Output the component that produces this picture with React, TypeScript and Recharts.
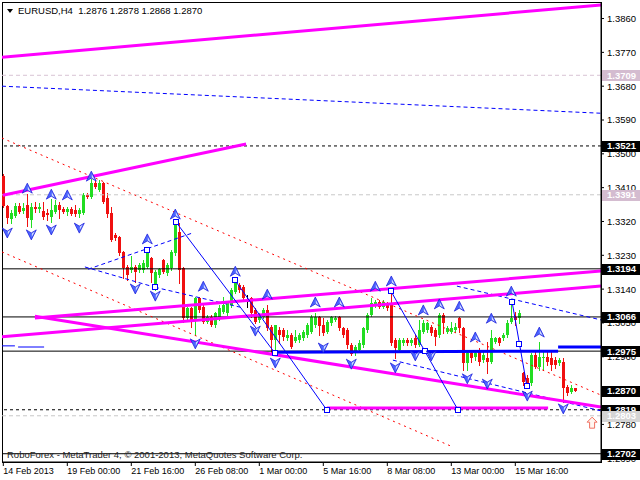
import {
  ComposedChart,
  Bar,
  Scatter,
  XAxis,
  YAxis,
  ReferenceLine,
  ReferenceArea,
} from 'recharts'

const FONT = "'Liberation Sans', Arial, sans-serif"
const GREEN = '#22dd22'
const RED = '#f01010'
const BLUE = '#0000ff'
const MAGENTA = '#ff00ff'

// H4 bars, index 0 = first visible bar
const timeTicks = [0, 16, 32, 48, 64, 80, 96, 112, 128]
const timeLabels = [
  '14 Feb 2013',
  '19 Feb 00:00',
  '21 Feb 16:00',
  '26 Feb 08:00',
  '1 Mar 00:00',
  '5 Mar 16:00',
  '8 Mar 08:00',
  '13 Mar 00:00',
  '15 Mar 16:00',
]

const priceTicks = [
  1.386, 1.377, 1.368, 1.359, 1.35, 1.341, 1.332, 1.323, 1.314, 1.305, 1.296, 1.287, 1.278, 1.269,
]

// open, high, low, close
const ohlc: [number, number, number, number][] = [
  [1.3441, 1.3447, 1.3358, 1.3361],
  [1.3361, 1.3364, 1.3316, 1.3329],
  [1.3326, 1.335, 1.3316, 1.3342],
  [1.3334, 1.3369, 1.3332, 1.3361],
  [1.3361, 1.3369, 1.3342, 1.3345],
  [1.3348, 1.3369, 1.3342, 1.3356],
  [1.3364, 1.3393, 1.3308, 1.3329],
  [1.3324, 1.3369, 1.3305, 1.3358],
  [1.3358, 1.3372, 1.3345, 1.3353],
  [1.3353, 1.3369, 1.3345, 1.3358],
  [1.3348, 1.3372, 1.3326, 1.3332],
  [1.3342, 1.3353, 1.3324, 1.3337],
  [1.3332, 1.338, 1.3318, 1.335],
  [1.3345, 1.3377, 1.3342, 1.3364],
  [1.3364, 1.3372, 1.3329, 1.335],
  [1.3353, 1.3358, 1.3342, 1.3345],
  [1.3345, 1.3358, 1.3337, 1.3353],
  [1.3353, 1.3358, 1.3337, 1.334],
  [1.335, 1.3364, 1.3334, 1.334],
  [1.334, 1.3356, 1.3332, 1.335],
  [1.3342, 1.3396, 1.334, 1.339],
  [1.339, 1.3396, 1.3382, 1.3385],
  [1.3385, 1.3433, 1.3382, 1.3422],
  [1.3422, 1.343, 1.3409, 1.3412],
  [1.3404, 1.343, 1.3401, 1.3422],
  [1.3422, 1.3425, 1.3369, 1.3372],
  [1.3382, 1.3396, 1.3332, 1.334],
  [1.3342, 1.3358, 1.3268, 1.3271],
  [1.3284, 1.3289, 1.3271, 1.3276],
  [1.3279, 1.3281, 1.3231, 1.3236],
  [1.3239, 1.3241, 1.317, 1.3196],
  [1.3199, 1.3204, 1.3164, 1.3177],
  [1.3191, 1.3228, 1.3185, 1.3199],
  [1.3199, 1.3204, 1.3159, 1.3185],
  [1.3191, 1.3209, 1.3185, 1.3204],
  [1.3191, 1.3217, 1.3185, 1.3209],
  [1.3199, 1.3249, 1.3196, 1.3247],
  [1.3223, 1.3225, 1.3159, 1.3183],
  [1.3151, 1.3191, 1.3137, 1.3185],
  [1.3177, 1.3196, 1.3172, 1.3193],
  [1.3217, 1.322, 1.3183, 1.3185],
  [1.3183, 1.3209, 1.3177, 1.3204],
  [1.3196, 1.3244, 1.3191, 1.3239],
  [1.3236, 1.3318, 1.3231, 1.3316],
  [1.3292, 1.3316, 1.3156, 1.3191],
  [1.3196, 1.3199, 1.3053, 1.3063],
  [1.3063, 1.3092, 1.3058, 1.309],
  [1.309, 1.3092, 1.3039, 1.3058],
  [1.3058, 1.3119, 1.3018, 1.3116],
  [1.3116, 1.3119, 1.3079, 1.3084],
  [1.3092, 1.3098, 1.305, 1.3053],
  [1.3053, 1.3071, 1.305, 1.3066],
  [1.3066, 1.3071, 1.3042, 1.3045],
  [1.3045, 1.3079, 1.3039, 1.3076],
  [1.3063, 1.3098, 1.3058, 1.309],
  [1.3079, 1.3119, 1.3076, 1.3098],
  [1.3076, 1.3106, 1.3071, 1.3103],
  [1.3098, 1.3143, 1.3092, 1.3137],
  [1.3132, 1.317, 1.313, 1.3156],
  [1.3151, 1.3156, 1.3132, 1.3137],
  [1.3145, 1.3151, 1.3111, 1.3116],
  [1.3109, 1.3124, 1.3092, 1.3109],
  [1.3116, 1.3119, 1.3066, 1.3076],
  [1.3084, 1.309, 1.305, 1.3053],
  [1.3058, 1.3076, 1.3053, 1.3071],
  [1.3066, 1.309, 1.3063, 1.3084],
  [1.3084, 1.3098, 1.3031, 1.3037],
  [1.3039, 1.3045, 1.2973, 1.3005],
  [1.3005, 1.3045, 1.297, 1.3045],
  [1.3031, 1.3039, 1.2997, 1.3018],
  [1.3031, 1.3037, 1.3005, 1.3013],
  [1.301, 1.3031, 1.3005, 1.3018],
  [1.3018, 1.3023, 1.2983, 1.2986],
  [1.3002, 1.3031, 1.2999, 1.3013],
  [1.3005, 1.3023, 1.2999, 1.3018],
  [1.301, 1.3031, 1.3005, 1.3026],
  [1.3018, 1.305, 1.3013, 1.3045],
  [1.3026, 1.3071, 1.3023, 1.3066],
  [1.3045, 1.3076, 1.3039, 1.3066],
  [1.3066, 1.3068, 1.3018, 1.3042],
  [1.3045, 1.3063, 1.3018, 1.3023],
  [1.3026, 1.3058, 1.3023, 1.3053],
  [1.305, 1.3068, 1.3045, 1.3066],
  [1.3058, 1.3068, 1.3055, 1.3063],
  [1.3066, 1.3068, 1.3031, 1.3037],
  [1.3037, 1.3039, 1.3013, 1.3018],
  [1.3031, 1.3037, 1.2983, 1.2991],
  [1.2991, 1.2997, 1.2965, 1.2967],
  [1.297, 1.2991, 1.2965, 1.2986],
  [1.2978, 1.3005, 1.2973, 1.2997],
  [1.2991, 1.3039, 1.2986, 1.3037],
  [1.3031, 1.3076, 1.3026, 1.3071],
  [1.3071, 1.3116, 1.3069, 1.3103],
  [1.3098, 1.3111, 1.3092, 1.3106],
  [1.3106, 1.3111, 1.309, 1.3092],
  [1.3092, 1.3111, 1.309, 1.3106],
  [1.3103, 1.3106, 1.3084, 1.309],
  [1.3103, 1.3137, 1.2991, 1.2997],
  [1.3005, 1.301, 1.2957, 1.2983],
  [1.2978, 1.301, 1.2973, 1.3005],
  [1.2997, 1.301, 1.2991, 1.3005],
  [1.3005, 1.301, 1.2991, 1.2997],
  [1.2997, 1.301, 1.2991, 1.3005],
  [1.301, 1.3018, 1.2986, 1.2991],
  [1.2991, 1.3058, 1.2989, 1.3031],
  [1.3026, 1.3058, 1.3023, 1.305],
  [1.3031, 1.3053, 1.3026, 1.305],
  [1.3039, 1.3045, 1.3018, 1.3023],
  [1.3031, 1.3037, 1.2991, 1.3013],
  [1.3018, 1.3076, 1.3013, 1.3071],
  [1.3071, 1.3076, 1.3023, 1.305],
  [1.3026, 1.3042, 1.3023, 1.3037],
  [1.3026, 1.3053, 1.3023, 1.3037],
  [1.3031, 1.305, 1.3026, 1.3039],
  [1.3063, 1.3066, 1.3026, 1.3037],
  [1.3037, 1.3039, 1.2925, 1.2943],
  [1.2943, 1.2978, 1.2925, 1.297],
  [1.297, 1.2973, 1.2946, 1.2957],
  [1.2959, 1.2973, 1.2951, 1.297],
  [1.2978, 1.2983, 1.2938, 1.2946],
  [1.2951, 1.2973, 1.2946, 1.2965],
  [1.2957, 1.2999, 1.2917, 1.2946],
  [1.2946, 1.3031, 1.2943, 1.301],
  [1.2999, 1.3013, 1.2997, 1.301],
  [1.301, 1.3013, 1.2991, 1.2997],
  [1.301, 1.3023, 1.3005, 1.3018],
  [1.3018, 1.3058, 1.3013, 1.305],
  [1.3053, 1.3106, 1.305, 1.3063],
  [1.3066, 1.3079, 1.3045, 1.3058],
  [1.3063, 1.3084, 1.305, 1.3076],
  [1.2917, 1.292, 1.2885, 1.2893],
  [1.2904, 1.2912, 1.288, 1.289],
  [1.289, 1.297, 1.2885, 1.2965],
  [1.2965, 1.2978, 1.293, 1.2933],
  [1.2933, 1.2999, 1.2925, 1.2959],
  [1.2957, 1.2973, 1.2925, 1.2959],
  [1.2959, 1.2973, 1.2938, 1.2946],
  [1.2957, 1.2973, 1.2925, 1.2938],
  [1.2951, 1.2959, 1.293, 1.2938],
  [1.2943, 1.2957, 1.2938, 1.2951],
  [1.2946, 1.2957, 1.284, 1.2878],
  [1.288, 1.2885, 1.2858, 1.2864],
  [1.2866, 1.2885, 1.2864, 1.2878],
  [1.2876, 1.2878, 1.2868, 1.287],
]

// fractal marks: [bar, price]
const fractalsUp: [number, number][] = [
  [6, 1.3406], [12, 1.339], [16, 1.3388], [22, 1.3438], [36, 1.3271], [43, 1.3337],
  [50, 1.3145], [58, 1.3185], [66, 1.3124], [78, 1.3103], [84, 1.3103], [93, 1.3145],
  [97, 1.3159], [105, 1.3082], [109, 1.3098], [114, 1.3092], [118, 1.301], [122, 1.306],
  [127, 1.3132], [134, 1.3023],
]
const fractalsDown: [number, number][] = [
  [1, 1.3292], [7, 1.3287], [12, 1.33], [19, 1.3305], [33, 1.3143], [38, 1.3124],
  [48, 1.2997], [63, 1.3031], [68, 1.2946], [80, 1.2986], [87, 1.2943], [98, 1.2933],
  [103, 1.2965], [107, 1.2965], [116, 1.2904], [121, 1.289], [131, 1.2858], [140, 1.2824],
]
const pivots: [number, number][] = [
  [35.9, 1.3244], [37.9, 1.3145], [43.2, 1.3318], [57.9, 1.3164], [67.9, 1.297],
  [80.9, 1.2818], [96.9, 1.3135], [105.4, 1.2975], [113.7, 1.2818], [127.2, 1.3106],
  [128.9, 1.2994], [130.9, 1.2882],
]
const buySignal: [number, number][] = [[147.2, 1.2786]]

type Seg = [[number, number], [number, number]]
const magentaLines: Seg[] = [
  [[-0.325, 1.3757], [149.425, 1.3896]],
  [[-0.1, 1.339], [60.7, 1.3526]],
  [[7.9, 1.3063], [149.425, 1.3188]],
  [[-0.325, 1.3013], [149.425, 1.3148]],
  [[7.9, 1.3068], [149.425, 1.2826]],
  [[80.9, 1.2824], [136.2, 1.2824]],
]
const blueThickLines: Seg[] = [
  [[67.4, 1.2972], [138.7, 1.2975]],
  [[138.7, 1.2986], [149.425, 1.2986]],
]
const blueThinLines: Seg[] = [
  [[43.2, 1.3318], [67.9, 1.297]],
  [[57.9, 1.3164], [80.9, 1.2818]],
  [[96.9, 1.3135], [113.7, 1.2818]],
  [[127.2, 1.3106], [130.9, 1.2882]],
  [[-0.325, 1.2989], [2.9, 1.2989]],
  [[3.7, 1.2986], [10.2, 1.2986]],
]
const blueDashLines: Seg[] = [
  [[-0.325, 1.368], [149.425, 1.3608]],
  [[21.2, 1.3193], [47.2, 1.3289]],
  [[20.4, 1.3199], [37.9, 1.3145]],
  [[37.9, 1.3145], [59.2, 1.3092]],
  [[113.4, 1.3148], [149.425, 1.3058]],
  [[97.4, 1.2951], [149.425, 1.2816]],
]
const redDashLines: Seg[] = [
  [[-0.325, 1.3542], [149.425, 1.2858]],
  [[-0.325, 1.3239], [112.4, 1.272]],
]

const solidLevels = [1.3194, 1.3066, 1.2975, 1.2702]
const dashedLevels = [1.3521, 1.2819]
const faintLevels = [1.3391, 1.2803]
const mauveLevels = [1.3709]

const blackTags = [1.3521, 1.3194, 1.3066, 1.2975, 1.287, 1.2819, 1.2702]
const mauveTags = [1.3709, 1.3391]
const grayTags = [1.2803]

const candles = ohlc.map(([o, h, l, c], i) => ({ i, o, h, l, c, range: [l, h] }))
const toPts = (arr: [number, number][]) => arr.map(([i, p]) => ({ i, p }))

const tagFill = new Map<number, string>([
  ...blackTags.map((p) => [p, '#000'] as [number, string]),
  ...mauveTags.map((p) => [p, '#d4bcd0'] as [number, string]),
  ...grayTags.map((p) => [p, '#d4d4d4'] as [number, string]),
])
// tags last so they are painted over the plain tick labels
const axisTicks = [...priceTicks.filter((t) => !tagFill.has(t)), ...tagFill.keys()]

function Candle(props: any) {
  const { x, y, width, height, payload } = props
  if (x == null || !payload) return null
  const { o, h, l, c } = payload
  const yTop = Math.min(y, y + height)
  const yBot = Math.max(y, y + height)
  const span = h - l || 1e-9
  const py = (v: number) => yTop + ((h - v) / span) * (yBot - yTop)
  const cx = Math.round(x + width / 2)
  const bTop = Math.round(py(Math.max(o, c)))
  const bBot = Math.round(py(Math.min(o, c)))
  const color = c > o ? GREEN : c < o ? RED : '#000'
  return (
    <g shapeRendering="crispEdges">
      <line x1={cx + 0.5} x2={cx + 0.5} y1={Math.round(yTop)} y2={Math.round(yBot) + 1} stroke={color} />
      <rect x={cx - 1} y={bTop} width={3} height={Math.max(1, bBot - bTop)} fill={color} />
    </g>
  )
}

function UpFractal({ cx, cy }: any) {
  if (cx == null) return null
  return (
    <g>
      <path d={`M${cx},${cy - 6} L${cx + 5},${cy + 4} L${cx},${cy + 1} L${cx - 5},${cy + 4} Z`} fill="#4a64ff" stroke="#1818d8" strokeWidth={0.7} />
      <path d={`M${cx + 0.5},${cy - 3} L${cx + 3.5},${cy + 2.5} L${cx + 0.5},${cy + 0.5} Z`} fill="#d4defc" />
    </g>
  )
}

function DownFractal({ cx, cy }: any) {
  if (cx == null) return null
  return (
    <g>
      <path d={`M${cx},${cy + 6} L${cx + 5},${cy - 4} L${cx},${cy - 1} L${cx - 5},${cy - 4} Z`} fill="#4a64ff" stroke="#1818d8" strokeWidth={0.7} />
      <path d={`M${cx + 0.5},${cy + 3} L${cx + 3.5},${cy - 2.5} L${cx + 0.5},${cy - 0.5} Z`} fill="#d4defc" />
    </g>
  )
}

function Pivot({ cx, cy }: any) {
  if (cx == null) return null
  return <rect x={Math.round(cx) - 2.5} y={Math.round(cy) - 2.5} width={5} height={5} fill="#fff" stroke={BLUE} />
}

function BuyArrow({ cx, cy }: any) {
  if (cx == null) return null
  return (
    <path
      d={`M${cx},${cy - 5} L${cx + 5},${cy} L${cx + 2.5},${cy} L${cx + 2.5},${cy + 6} L${cx - 2.5},${cy + 6} L${cx - 2.5},${cy} L${cx - 5},${cy} Z`}
      fill="#fff6f0"
      stroke="#f07060"
    />
  )
}

function PriceTick(props: any) {
  const { x, y, payload } = props
  const v = payload.value as number
  const bg = tagFill.get(v)
  if (bg) {
    return (
      <g>
        <rect x={x - 5} y={Math.round(y) - 5} width={38} height={11} fill={bg} />
        <text x={x} y={y} dy="0.36em" fill="#fff" fontSize={9.5} fontFamily={FONT} fontWeight="bold">
          {v.toFixed(4)}
        </text>
      </g>
    )
  }
  return (
    <text x={x} y={y} dy="0.36em" fill="#000" fontSize={9.5} fontFamily={FONT}>
      {v.toFixed(4)}
    </text>
  )
}

function TimeTick(props: any) {
  const { x, y, payload } = props
  const k = timeTicks.indexOf(payload.value)
  return (
    <text x={x} y={y} dy="0.71em" textAnchor="start" fontSize={9} fontFamily={FONT} fill="#000">
      {timeLabels[k]}
    </text>
  )
}

const segLine = (s: Seg, key: string, style: any) => (
  <ReferenceLine
    key={key}
    segment={[{ x: s[0][0], y: s[0][1] }, { x: s[1][0], y: s[1][1] }]}
    ifOverflow="hidden"
    {...style}
  />
)

export default function App() {
  return (
    <div style={{ position: 'absolute', left: 0, top: 0, width: 640, height: 480, background: '#fff' }}>
      <ComposedChart width={640} height={480} data={candles} margin={{ top: 2, right: 0, bottom: 0, left: 2 }}>
        <ReferenceArea x1={-0.325} x2={149.425} y1={1.268} y2={1.3904} fill="none" stroke="#000" shapeRendering="crispEdges" />
        {mauveLevels.map((p) => (
          <ReferenceLine key={'m' + p} y={p} stroke="#d8c4d4" strokeDasharray="4 3" />
        ))}
        {faintLevels.map((p) => (
          <ReferenceLine key={'f' + p} y={p} stroke="#c8c8c8" strokeDasharray="4 3" />
        ))}
        {dashedLevels.map((p) => (
          <ReferenceLine key={'d' + p} y={p} stroke="#000" strokeDasharray="3 3" />
        ))}
        {solidLevels.map((p) => (
          <ReferenceLine key={'s' + p} y={p} stroke="#000" />
        ))}
        {redDashLines.map((s, k) => segLine(s, 'r' + k, { stroke: '#ff0000', strokeDasharray: '2 4' }))}
        {blueDashLines.map((s, k) => segLine(s, 'bd' + k, { stroke: BLUE, strokeDasharray: '4 3' }))}
        <Bar dataKey="range" barSize={3} shape={<Candle />} isAnimationActive={false} />
        {magentaLines.map((s, k) => segLine(s, 'mg' + k, { stroke: MAGENTA, strokeWidth: 3 }))}
        {blueThickLines.map((s, k) => segLine(s, 'bt' + k, { stroke: BLUE, strokeWidth: 3 }))}
        {blueThinLines.map((s, k) => segLine(s, 'bs' + k, { stroke: BLUE, strokeWidth: 1 }))}
        <Scatter data={toPts(pivots)} dataKey="p" shape={<Pivot />} isAnimationActive={false} />
        <Scatter data={toPts(fractalsUp)} dataKey="p" shape={<UpFractal />} isAnimationActive={false} />
        <Scatter data={toPts(fractalsDown)} dataKey="p" shape={<DownFractal />} isAnimationActive={false} />
        <Scatter data={toPts(buySignal)} dataKey="p" shape={<BuyArrow />} isAnimationActive={false} />
        <XAxis
          type="number"
          dataKey="i"
          domain={[-0.325, 149.425]}
          ticks={timeTicks}
          interval={0}
          height={18}
          tickSize={4}
          tickMargin={2}
          tick={<TimeTick />}
          axisLine={{ stroke: '#000' }}
          tickLine={{ stroke: '#000' }}
        />
        <YAxis
          orientation="right"
          type="number"
          domain={[1.268, 1.3904]}
          ticks={axisTicks}
          interval={0}
          width={39}
          tickSize={3}
          tickMargin={3}
          tick={<PriceTick />}
          axisLine={{ stroke: '#000' }}
          tickLine={{ stroke: '#000' }}
        />
      </ComposedChart>
      <div style={{ position: 'absolute', left: 7, top: 9, width: 0, height: 0, borderLeft: '3px solid transparent', borderRight: '3px solid transparent', borderTop: '4px solid #000' }} />
      <div style={{ position: 'absolute', left: 18, top: 5, fontFamily: FONT, fontSize: 9.5, lineHeight: '11px', whiteSpace: 'pre', color: '#000' }}>
        {'EURUSD,H4  1.2876 1.2878 1.2868 1.2870'}
      </div>
      <div style={{ position: 'absolute', left: 7, top: 450, fontFamily: FONT, fontSize: 9.5, lineHeight: '10px', whiteSpace: 'pre', color: '#222' }}>
        {'RoboForex - MetaTrader 4, © 2001-2013, MetaQuotes Software Corp.'}
      </div>
    </div>
  )
}
